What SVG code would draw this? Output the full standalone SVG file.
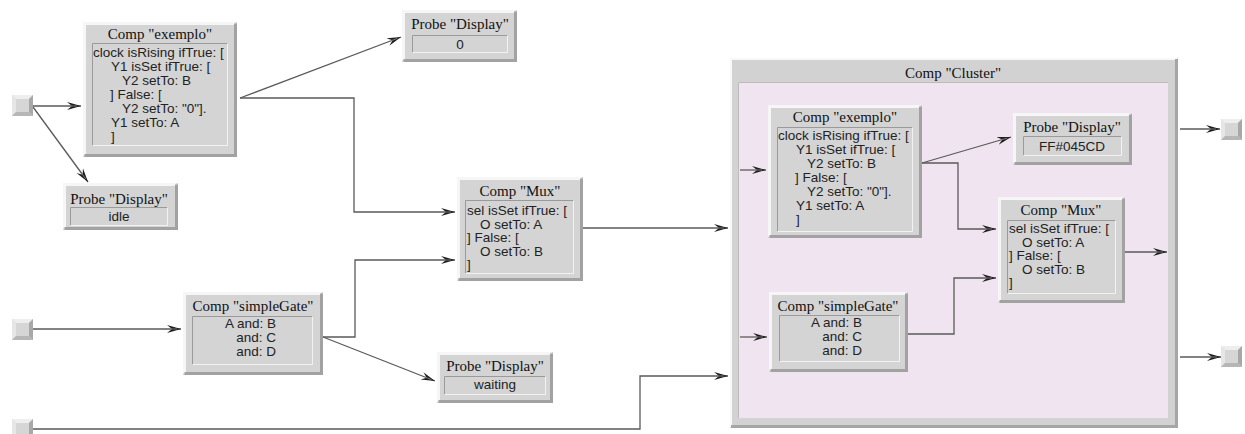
<svg xmlns="http://www.w3.org/2000/svg" xmlns:xlink="http://www.w3.org/1999/xlink" width="1245" height="434" viewBox="0 0 1245 434">
<style>
.face{fill:#d4d4d4}
.hi{fill:none;stroke:#f6f6f6;stroke-width:3}
.lo{fill:none;stroke:#a2a2a2;stroke-width:3}
.ihi{fill:none;stroke:#f2f2f2;stroke-width:1}
.ilo{fill:none;stroke:#9a9a9a;stroke-width:1}
.title{font-family:"Liberation Serif","Times New Roman",serif;font-size:15px;fill:#111}
.code{font-family:"Liberation Sans",Arial,sans-serif;font-size:13.5px;fill:#222}
.c{text-anchor:middle}
.e{text-anchor:end}
.wire{fill:none;stroke:#5a5a5a;stroke-width:1.3;marker-end:url(#ah)}
</style>
<defs>
<marker id="ah" markerUnits="userSpaceOnUse" markerWidth="16" markerHeight="10" refX="14" refY="4.5" orient="auto">
<path d="M0,0.5 L14,4.5 L0,8.5 L5,4.5 Z" fill="#1e1e1e"/>
<path d="M3,4.5 H10" stroke="#888888" stroke-width="0.8"/>
</marker>
<g id="port">
<rect x="0" y="0" width="21" height="21" fill="#d6d6d6"/>
<polygon points="0,0 21,0 17,4 4,4" fill="#eeeeee"/>
<polygon points="0,0 4,4 4,17 0,21" fill="#e6e6e6"/>
<polygon points="21,0 21,21 17,17 17,4" fill="#a8a8a8"/>
<polygon points="0,21 21,21 17,17 4,17" fill="#b6b6b6"/>
</g>
</defs>
<rect width="1245" height="434" fill="#ffffff"/>

<g id="cluster">
<rect x="730" y="58" width="448" height="370" fill="#d2d2d2"/>
<path d="M731,427 V59 H1177" fill="none" stroke="#f8f8f8" stroke-width="2"/>
<path d="M1176.5,59 V426.5 H731" fill="none" stroke="#a6a6a6" stroke-width="3"/>
<rect x="738" y="82" width="430" height="336" fill="#f0e4f0"/>
<path d="M738.5,418 V82.5 H1168" fill="none" stroke="#bcbcbc" stroke-width="1"/>
<text class="title c" x="953" y="78">Comp "Cluster"</text>
</g>

<g id="connectors">
<path class="wire" d="M32,106 H81"/>
<path class="wire" d="M33,107 L88,182"/>
<path class="wire" d="M240,98 L401,37"/>
<path class="wire" d="M240,98 H354 V212 H455"/>
<path class="wire" d="M323,337 H355 V260 H455"/>
<path class="wire" d="M323,337 L435,381"/>
<path class="wire" d="M33,329 H181"/>
<path class="wire" d="M33,429 H640 V376 H728"/>
<path class="wire" d="M583,228 H728"/>
<path class="wire" d="M740,170 H766"/>
<path class="wire" d="M740,337 H767"/>
<path class="wire" d="M922,163 L1011,137"/>
<path class="wire" d="M922,163 H958 V229 H996"/>
<path class="wire" d="M908,334 H954 V278 H996"/>
<path class="wire" d="M1125,252 H1167"/>
<path class="wire" d="M1180,129 H1220"/>
<path class="wire" d="M1180,357 H1221"/>
</g>

<g id="port-in1"><use xlink:href="#port" href="#port" x="12" y="95"/></g>
<g id="port-in2"><use xlink:href="#port" href="#port" x="12" y="319"/></g>
<g id="port-in3"><use xlink:href="#port" href="#port" x="12" y="419"/></g>
<g id="port-out1"><use xlink:href="#port" href="#port" x="1221" y="119"/></g>
<g id="port-out2"><use xlink:href="#port" href="#port" x="1221" y="346"/></g>

<g id="comp-exemplo">
<rect class="face" x="83" y="22" width="154" height="135"/>
<path class="hi" d="M84.5,155.5V23.5H235.5"/>
<path class="lo" d="M235.5,23.5V155.5H84.5"/>
<path class="ilo" d="M92.5,145.5V43.5H227.5"/>
<path class="ihi" d="M227.5,43.5V145.5H92.5"/>
<text class="title c" x="160" y="39">Comp "exemplo"</text>
<text class="code" x="93" y="57">clock isRising ifTrue: [</text>
<text class="code" x="111" y="71">Y1 isSet ifTrue: [</text>
<text class="code" x="122" y="85">Y2 setTo: B</text>
<text class="code" x="110" y="99">] False: [</text>
<text class="code" x="122" y="113">Y2 setTo: "0"].</text>
<text class="code" x="111" y="127">Y1 setTo: A</text>
<text class="code" x="111" y="141">]</text>
</g>

<g id="probe-idle">
<rect class="face" x="63" y="183" width="115" height="47"/>
<path class="hi" d="M64.5,228.5V184.5H176.5"/>
<path class="lo" d="M176.5,184.5V228.5H64.5"/>
<path class="ilo" d="M70.5,225.5V207.5H167.5"/>
<path class="ihi" d="M167.5,207.5V225.5H70.5"/>
<text class="title c" x="119" y="204">Probe "Display"</text>
<text class="code c" x="119" y="221">idle</text>
</g>

<g id="probe-zero">
<rect class="face" x="402" y="10" width="115" height="52"/>
<path class="hi" d="M403.5,60.5V11.5H515.5"/>
<path class="lo" d="M515.5,11.5V60.5H403.5"/>
<path class="ilo" d="M412.5,52.5V35.5H507.5"/>
<path class="ihi" d="M507.5,35.5V52.5H412.5"/>
<text class="title c" x="460" y="29">Probe "Display"</text>
<text class="code c" x="460" y="49">0</text>
</g>

<g id="comp-mux">
<rect class="face" x="457" y="177" width="126" height="104"/>
<path class="hi" d="M458.5,279.5V178.5H581.5"/>
<path class="lo" d="M581.5,178.5V279.5H458.5"/>
<path class="ilo" d="M465.5,273.5V200.5H573.5"/>
<path class="ihi" d="M573.5,200.5V273.5H465.5"/>
<text class="title c" x="520" y="196">Comp "Mux"</text>
<text class="code" x="467" y="215">sel isSet ifTrue: [</text>
<text class="code" x="480" y="229">O setTo: A</text>
<text class="code" x="467" y="242">] False: [</text>
<text class="code" x="480" y="256">O setTo: B</text>
<text class="code" x="467" y="269">]</text>
</g>

<g id="comp-simplegate">
<rect class="face" x="183" y="292" width="140" height="83"/>
<path class="hi" d="M184.5,373.5V293.5H321.5"/>
<path class="lo" d="M321.5,293.5V373.5H184.5"/>
<path class="ilo" d="M192.5,364.5V316.5H312.5"/>
<path class="ihi" d="M312.5,316.5V364.5H192.5"/>
<text class="title c" x="253" y="311">Comp "simpleGate"</text>
<text class="code e" x="276" y="328">A and: B</text>
<text class="code e" x="276" y="342">and: C</text>
<text class="code e" x="276" y="356">and: D</text>
</g>

<g id="probe-waiting">
<rect class="face" x="437" y="352" width="116" height="51"/>
<path class="hi" d="M438.5,401.5V353.5H551.5"/>
<path class="lo" d="M551.5,353.5V401.5H438.5"/>
<path class="ilo" d="M444.5,394.5V376.5H545.5"/>
<path class="ihi" d="M545.5,376.5V394.5H444.5"/>
<text class="title c" x="495" y="371">Probe "Display"</text>
<text class="code c" x="495" y="389">waiting</text>
</g>

<g id="cluster-exemplo">
<rect class="face" x="768" y="105" width="154" height="133"/>
<path class="hi" d="M769.5,236.5V106.5H920.5"/>
<path class="lo" d="M920.5,106.5V236.5H769.5"/>
<path class="ilo" d="M777.5,231.5V127.5H912.5"/>
<path class="ihi" d="M912.5,127.5V231.5H777.5"/>
<text class="title c" x="845" y="122">Comp "exemplo"</text>
<text class="code" x="778" y="140">clock isRising ifTrue: [</text>
<text class="code" x="796" y="154">Y1 isSet ifTrue: [</text>
<text class="code" x="807" y="168">Y2 setTo: B</text>
<text class="code" x="795" y="182">] False: [</text>
<text class="code" x="807" y="196">Y2 setTo: "0"].</text>
<text class="code" x="796" y="210">Y1 setTo: A</text>
<text class="code" x="796" y="224">]</text>
</g>

<g id="cluster-probe">
<rect class="face" x="1013" y="113" width="119" height="52"/>
<path class="hi" d="M1014.5,163.5V114.5H1130.5"/>
<path class="lo" d="M1130.5,114.5V163.5H1014.5"/>
<path class="ilo" d="M1023.5,155.5V136.5H1121.5"/>
<path class="ihi" d="M1121.5,136.5V155.5H1023.5"/>
<text class="title c" x="1072" y="132">Probe "Display"</text>
<text class="code c" x="1072" y="151">FF#045CD</text>
</g>

<g id="cluster-mux">
<rect class="face" x="998" y="197" width="127" height="106"/>
<path class="hi" d="M999.5,301.5V198.5H1123.5"/>
<path class="lo" d="M1123.5,198.5V301.5H999.5"/>
<path class="ilo" d="M1007.5,293.5V220.5H1115.5"/>
<path class="ihi" d="M1115.5,220.5V293.5H1007.5"/>
<text class="title c" x="1061" y="215">Comp "Mux"</text>
<text class="code" x="1009" y="233">sel isSet ifTrue: [</text>
<text class="code" x="1022" y="247">O setTo: A</text>
<text class="code" x="1009" y="260">] False: [</text>
<text class="code" x="1022" y="274">O setTo: B</text>
<text class="code" x="1009" y="287">]</text>
</g>

<g id="cluster-simplegate">
<rect class="face" x="769" y="292" width="139" height="80"/>
<path class="hi" d="M770.5,370.5V293.5H906.5"/>
<path class="lo" d="M906.5,293.5V370.5H770.5"/>
<path class="ilo" d="M779.5,361.5V315.5H899.5"/>
<path class="ihi" d="M899.5,315.5V361.5H779.5"/>
<text class="title c" x="838" y="311">Comp "simpleGate"</text>
<text class="code e" x="862" y="327">A and: B</text>
<text class="code e" x="862" y="341">and: C</text>
<text class="code e" x="862" y="355">and: D</text>
</g>
</svg>
